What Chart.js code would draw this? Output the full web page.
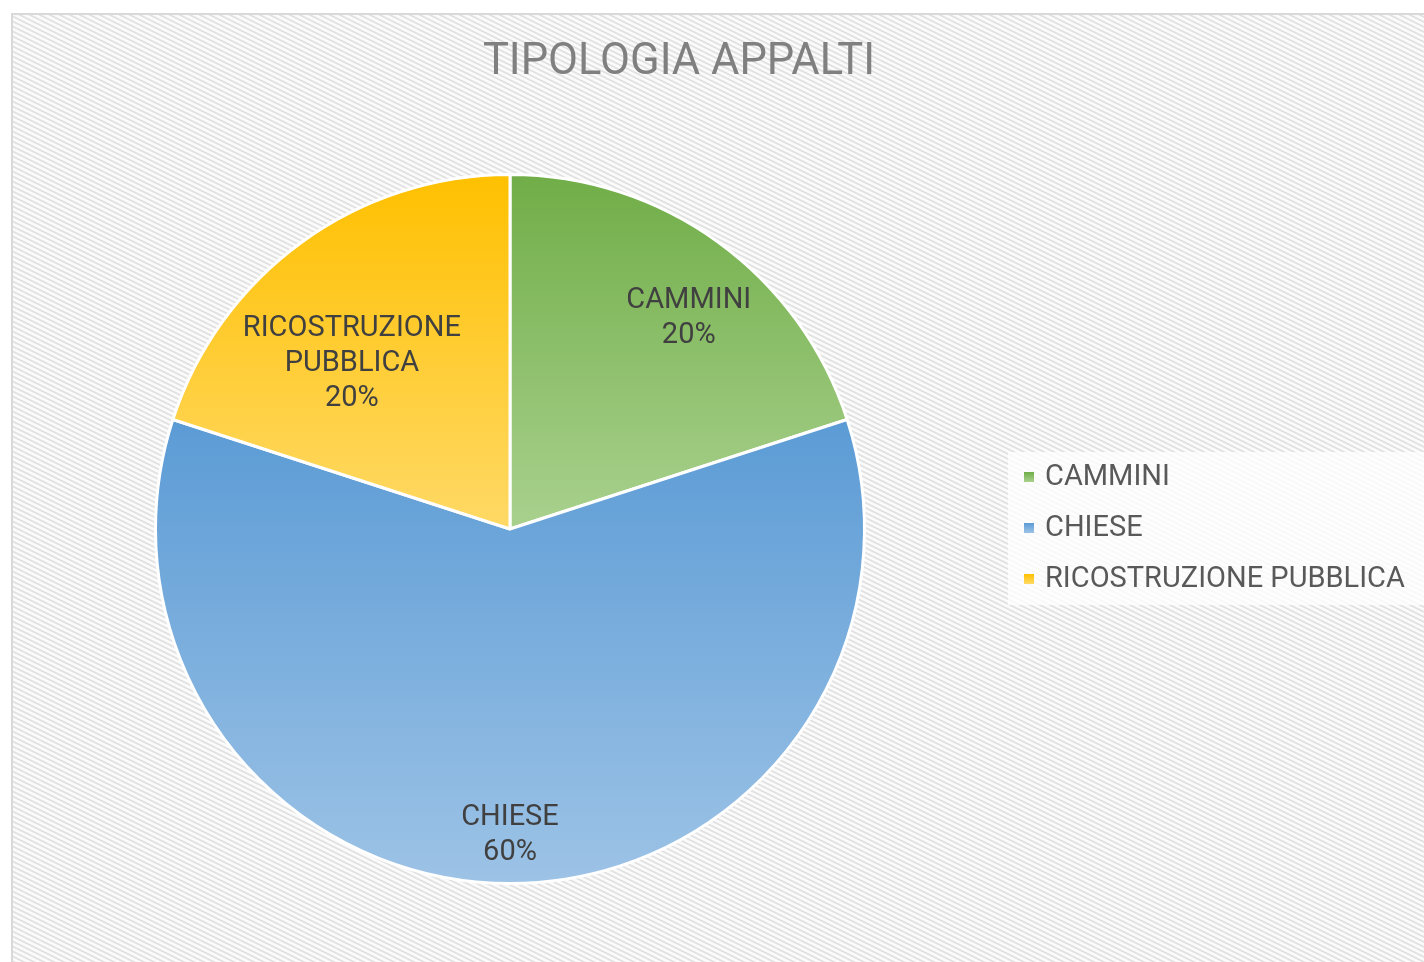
<!DOCTYPE html>
<html>
<head>
<meta charset="utf-8">
<title>Tipologia appalti</title>
<script src="https://cdn.jsdelivr.net/npm/chart.js@4/dist/chart.umd.min.js"></script>
<style>
    html, body { margin: 0; padding: 0; background: #ffffff; }
    #wrap { width: 1424px; height: 962px; position: relative; }
</style>
</head>
<body>
<div id="wrap"><canvas id="pieChart" width="1424" height="962"></canvas></div>
<script>
// dati del grafico
const titleText = 'TIPOLOGIA APPALTI';
const categories = ['CAMMINI', 'CHIESE', 'RICOSTRUZIONE PUBBLICA'];
const values = [1, 3, 1];
const topColors = ['#70ad47', '#5b9bd5', '#ffc000'];
const bottomColors = ['#a9d18e', '#9dc3e6', '#ffd966'];

const FONT = 'Roboto, "Open Sans", sans-serif';

// gradiente verticale sul riquadro della fetta
function sliceGradient(ctx) {
    const chart = ctx.chart;
    const area = chart.chartArea;
    const i = ctx.dataIndex;
    if (!area) return topColors[i];
    const cx = (area.left + area.right) / 2;
    const cy = (area.top + area.bottom) / 2;
    const r = Math.min(area.width, area.height) / 2;
    const total = values.reduce((a, b) => a + b, 0);
    let start = -Math.PI / 2;
    for (let k = 0; k < i; k++) start += values[k] / total * Math.PI * 2;
    const end = start + values[i] / total * Math.PI * 2;
    let minY = cy, maxY = cy;
    for (let s = 0; s <= 60; s++) {
        const a = start + (end - start) * s / 60;
        const y = cy + Math.sin(a) * r;
        minY = Math.min(minY, y);
        maxY = Math.max(maxY, y);
    }
    const g = chart.ctx.createLinearGradient(0, minY, 0, maxY);
    g.addColorStop(0, topColors[i]);
    g.addColorStop(1, bottomColors[i]);
    return g;
}

function makePattern(ctx) {
    const tile = document.createElement('canvas');
    tile.width = 10;
    tile.height = 5;
    const t = tile.getContext('2d');
    t.fillStyle = '#fbfbfb';
    t.fillRect(0, 0, 10, 5);
    t.strokeStyle = '#e1e1e1';
    t.lineWidth = 1.8;
    for (let k = -1; k <= 1; k++) {
        t.beginPath();
        t.moveTo(-2, -1 + k * 5);
        t.lineTo(12, 6 + k * 5);
        t.stroke();
    }
    return ctx.createPattern(tile, 'repeat');
}

// sfondo, cornice e titolo
const backgroundPlugin = {
    id: 'sfondo',
    beforeDraw(chart) {
        const ctx = chart.ctx;
        ctx.save();
        ctx.fillStyle = '#ffffff';
        ctx.fillRect(0, 0, chart.width, chart.height);
        ctx.fillStyle = makePattern(ctx);
        ctx.fillRect(12, 14, chart.width - 12, chart.height - 14);
        ctx.strokeStyle = '#d9d9d9';
        ctx.lineWidth = 2;
        ctx.beginPath();
        ctx.moveTo(12, chart.height);
        ctx.lineTo(12, 14);
        ctx.lineTo(chart.width, 14);
        ctx.stroke();

        ctx.fillStyle = '#808080';
        ctx.font = '43.5px ' + FONT;
        ctx.textAlign = 'center';
        ctx.textBaseline = 'alphabetic';
        ctx.fillText(titleText, 679, 74);
        ctx.restore();
    }
};

// legenda a destra
const legendPlugin = {
    id: 'legenda',
    afterDraw(chart) {
        const ctx = chart.ctx;
        ctx.save();
        ctx.fillStyle = 'rgba(255,255,255,0.75)';
        ctx.fillRect(1008, 452, chart.width - 1008, 153);
        ctx.font = '29px ' + FONT;
        ctx.textAlign = 'left';
        ctx.textBaseline = 'middle';
        categories.forEach((name, i) => {
            const y = 477 + i * 51;
            const g = ctx.createLinearGradient(0, y - 5, 0, y + 5);
            g.addColorStop(0, topColors[i]);
            g.addColorStop(1, bottomColors[i]);
            ctx.fillStyle = g;
            ctx.fillRect(1024, y - 5, 10, 10);
            ctx.fillStyle = '#595959';
            ctx.fillText(name, 1045, y + 1);
        });
        ctx.restore();
    }
};

// etichette dati dentro le fette
// il lato esterno del riquadro sta sulla bisettrice, l'angolo più lontano tocca il bordo
const dataLabelPlugin = {
    id: 'etichette',
    afterDatasetsDraw(chart) {
        const ctx = chart.ctx;
        const meta = chart.getDatasetMeta(0);
        const total = values.reduce((a, b) => a + b, 0);
        const lineH = 35;
        ctx.save();
        ctx.font = '29px ' + FONT;
        ctx.fillStyle = '#404040';
        ctx.textAlign = 'center';
        ctx.textBaseline = 'middle';
        meta.data.forEach((arc, i) => {
            const p = arc.getProps(['x', 'y', 'startAngle', 'endAngle', 'outerRadius'], true);
            // a capo se troppo lungo
            const words = categories[i].split(' ');
            const lines = [];
            let cur = '';
            words.forEach(w => {
                const test = cur ? cur + ' ' + w : w;
                if (cur && ctx.measureText(test).width > 250) {
                    lines.push(cur);
                    cur = w;
                } else {
                    cur = test;
                }
            });
            lines.push(cur);
            lines.push(Math.round(values[i] / total * 100) + '%');

            const hw = Math.max(...lines.map(l => ctx.measureText(l).width)) / 2;
            const hh = lines.length * lineH / 2;
            const mid = (p.startAngle + p.endAngle) / 2;
            const dx = Math.cos(mid), dy = Math.sin(mid);
            const vertical = Math.abs(dy) >= Math.abs(dx);
            const centerAt = t => {
                const ax = p.x + dx * t, ay = p.y + dy * t;
                return vertical
                    ? { x: ax, y: ay - Math.sign(dy) * hh }
                    : { x: ax - Math.sign(dx) * hw, y: ay };
            };
            const farthest = c => {
                let m = 0;
                [[-1, -1], [1, -1], [-1, 1], [1, 1]].forEach(([sx, sy]) => {
                    m = Math.max(m, Math.hypot(c.x + sx * hw - p.x, c.y + sy * hh - p.y));
                });
                return m;
            };
            const target = p.outerRadius * 0.972;
            let lo = 0, hi = p.outerRadius;
            for (let k = 0; k < 40; k++) {
                const m = (lo + hi) / 2;
                if (farthest(centerAt(m)) > target) hi = m; else lo = m;
            }
            const c = centerAt(lo);
            lines.forEach((l, k) => {
                ctx.fillText(l, c.x, c.y - hh + lineH * (k + 0.5));
            });
        });
        ctx.restore();
    }
};

new Chart(document.getElementById('pieChart'), {
    type: 'pie',
    data: {
        labels: categories,
        datasets: [{
            data: values,
            backgroundColor: sliceGradient,
            borderColor: '#ffffff',
            borderWidth: 3
        }]
    },
    options: {
        responsive: false,
        animation: false,
        events: [],
        layout: {
            padding: { left: 154, right: 558, top: 173, bottom: 77 }
        },
        plugins: {
            legend: { display: false },
            title: { display: false },
            tooltip: { enabled: false }
        }
    },
    plugins: [backgroundPlugin, dataLabelPlugin, legendPlugin]
});
</script>
</body>
</html>
